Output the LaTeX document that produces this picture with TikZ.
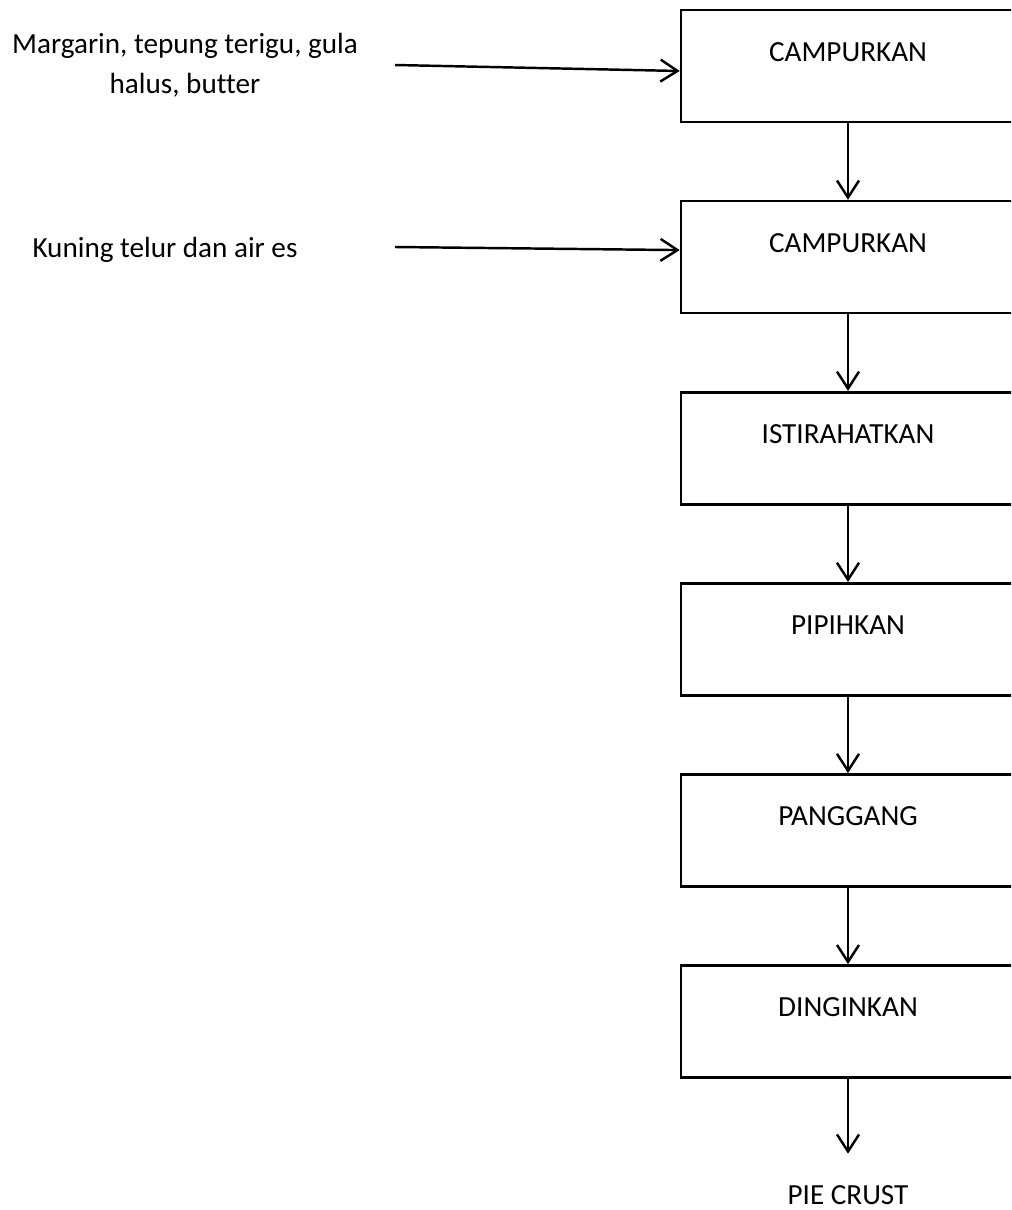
\documentclass[tikz,border=0pt]{standalone}
\usepackage{fontspec}
\setmainfont[Ligatures=NoCommon]{Carlito}
\usetikzlibrary{positioning,arrows.meta}

\tikzset{
  prosesbox/.style={draw, line width=1.5pt, inner sep=0pt,
    minimum width=6.68cm, text height=1.02cm, text depth=1.22cm},
  alur/.style={line width=1.4pt, -{Straight Barb[length=0.34cm,width=0.44cm,line width=1.4pt]}}
}

\begin{document}
\begin{tikzpicture}[x=0.02cm, y=-0.02cm, node distance=1.53cm,
  every node/.style={font=\fontsize{16.6}{22.7}\selectfont}]
  % frame of the page (boxes run off the right side)
  \clip (0,0) rectangle (1011,1210);

  % process steps
  \node[prosesbox] (campur1) at (848,66) {CAMPURKAN};
  \node[prosesbox, below=of campur1] (campur2) {CAMPURKAN};
  \node[prosesbox, below=of campur2] (istirahat) {ISTIRAHATKAN};
  \node[prosesbox, below=of istirahat] (pipih) {PIPIHKAN};
  \node[prosesbox, below=of pipih] (panggang) {PANGGANG};
  \node[prosesbox, below=of panggang] (dingin) {DINGINKAN};
  \node[anchor=base, inner sep=0pt, text depth=0pt] (hasil) at (848,1204) {PIE CRUST};

  % ingredients
  \node[align=center] (bahan1) at (185,65) {Margarin, tepung terigu, gula\\halus, butter};
  \node (bahan2) at (165,250) {Kuning telur dan air es};
  \coordinate (masuk1) at (395,65);
  \coordinate (masuk2) at (395,247);

  % arrows
  \draw[alur] (masuk1) -- ([yshift=-0.1cm]campur1.west);
  \draw[alur] (masuk2) -- ([yshift=0.14cm]campur2.west);
  \draw[alur] (campur1) -- (campur2);
  \draw[alur] (campur2) -- (istirahat);
  \draw[alur] (istirahat) -- (pipih);
  \draw[alur] (pipih) -- (panggang);
  \draw[alur] (panggang) -- (dingin);
  \draw[alur, shorten >=0.62cm] (dingin) -- (hasil.north);
\end{tikzpicture}
\end{document}
